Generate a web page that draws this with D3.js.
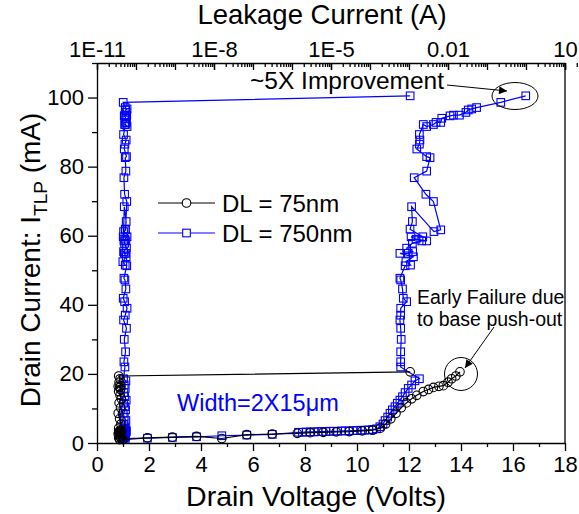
<!DOCTYPE html>
<html><head><meta charset="utf-8">
<script src="https://cdn.jsdelivr.net/npm/d3@7"></script>
<style>
body{margin:0;background:#fff;}
svg{display:block;font-family:Arial,"Liberation Sans",sans-serif;}
</style></head>
<body>
<svg id="c" width="579" height="514"></svg>
<script>
// ---------- DATA ----------
const bottomTicks = [0,2,4,6,8,10,12,14,16,18];
const leftTicks = [0,20,40,60,80,100];
const topTickValues = [1e-11,1e-8,1e-5,1e-2,10];
const topTickLabels = ["1E-11","1E-8","1E-5","0.01","10"];

// DL = 750nm : TLP I-V (Volts, mA) and leakage (A) after each pulse
const blueV = [1.0,1.94,2.9,3.83,4.8,5.76,6.74,
 7.75,7.9,8.05,8.2,8.35,8.5,8.65,8.8,8.95,9.1,9.25,9.4,9.55,9.7,9.85,10.0,10.15,10.3,10.45,10.6,10.75,
 10.88,11.0,11.08,11.18,11.27,11.36,11.46,11.55,11.65,11.75,11.85,11.97,12.1,12.23,12.4,
 11.68,11.68,11.68,11.7,11.68,11.65,11.68,11.68,11.91,11.78,
 11.75,11.68,11.65,11.85,12.06,11.88,12.17,11.65,11.97,12.14,
 11.91,12.13,12.49,12.68,12.27,12.08,12.53,12.04,12.13,12.1,
 12.96,13.22,12.94,12.65,12.2,12.68,12.81,12.68,12.3,12.4,
 12.42,12.4,12.55,12.68,12.94,13.04,13.22,13.26,13.58,13.71,
 13.94,14.19,14.28,14.41,14.6,15.53,16.49];
const blueI = [1.3,1.4,1.6,1.8,2.1,2.3,2.5,
 3.1,3.1,3.2,3.2,3.2,3.3,3.3,3.3,3.4,3.4,3.4,3.5,3.5,3.5,3.6,3.6,3.7,3.7,3.8,3.9,4.1,
 4.7,5.5,6.5,7.5,8.6,9.6,10.5,11.5,12.4,13.4,14.6,15.8,16.8,18.0,18.6,
 22.0,23.5,26.4,30.0,33.2,35.6,37.0,39.0,40.9,41.9,
 44.6,47.2,47.7,51.3,51.5,52.5,53.9,54.9,54.9,55.4,
 56.4,57.8,58.5,58.5,59.0,59.7,59.7,61.9,64.1,68.4,
 61.2,61.7,69.9,72.0,76.8,78.7,82.6,82.9,85.1,86.5,
 87.7,89.3,92.2,91.6,92.2,92.8,92.8,94.0,94.7,94.9,
 94.9,95.7,96.4,96.7,97.1,98.6,100.5];
const blueLeak = [5.3e-11,4.6e-11,5.0e-11,5.4e-11,4.8e-11,5.2e-11,4.9e-11,
 5.5e-11,4.7e-11,5.1e-11,5.3e-11,4.9e-11,5.6e-11,5.0e-11,4.8e-11,5.2e-11,5.4e-11,4.6e-11,5.1e-11,5.5e-11,4.9e-11,5.3e-11,5.0e-11,4.7e-11,5.2e-11,5.6e-11,4.8e-11,5.1e-11,
 5.3e-11,4.9e-11,5.5e-11,5.0e-11,4.7e-11,5.4e-11,5.2e-11,4.8e-11,5.6e-11,5.1e-11,4.9e-11,5.3e-11,5.0e-11,5.5e-11,4.8e-11,
 5.2e-11,4.9e-11,5.4e-11,5.0e-11,5.7e-11,4.8e-11,5.3e-11,5.9e-11,5.1e-11,4.7e-11,
 5.5e-11,5.2e-11,4.9e-11,5.8e-11,5.3e-11,4.6e-11,5.6e-11,5.0e-11,5.4e-11,4.8e-11,
 5.7e-11,5.1e-11,4.9e-11,5.5e-11,5.2e-11,5.9e-11,4.7e-11,5.3e-11,5.6e-11,5.0e-11,
 4.8e-11,5.4e-11,5.8e-11,5.1e-11,4.9e-11,5.5e-11,5.3e-11,5.7e-11,5.0e-11,5.2e-11,
 5.6e-11,4.8e-11,5.4e-11,5.9e-11,5.1e-11,5.3e-11,5.7e-11,5.5e-11,5.0e-11,5.8e-11,
 5.2e-11,5.6e-11,5.4e-11,5.9e-11,5.3e-11,4.7e-11,1.07e-3];

// DL = 75nm
const blackV = [1.0,1.94,2.9,3.83,4.8,5.76,6.74,7.7,8.2,8.7,9.2,9.7,10.2,10.6,
 10.9,11.1,11.3,11.5,11.7,11.9,12.1,12.3,12.55,12.75,12.94,13.15,13.32,13.5,13.64,13.8,13.96];
const blackI = [1.0,1.5,1.7,1.9,1.3,2.4,2.6,2.8,3.0,3.1,3.2,3.3,3.5,3.7,
 4.3,5.5,7.0,8.6,10.2,11.6,12.8,13.8,14.9,15.5,16.1,16.4,16.6,17.6,18.6,19.4,20.6];
const blackLeak = [3.8e-11,3.6e-11,4.0e-11,3.7e-11,4.2e-11,3.9e-11,3.5e-11,4.1e-11,3.8e-11,3.6e-11,4.0e-11,3.7e-11,4.3e-11,3.9e-11,
 3.6e-11,4.1e-11,3.8e-11,3.5e-11,4.0e-11,3.7e-11,4.2e-11,3.9e-11,3.6e-11,4.0e-11,3.8e-11,3.5e-11,4.1e-11,3.7e-11,3.9e-11,3.6e-11,1.07e-3];

const seriesNames = ["DL = 75nm","DL = 750nm"];
const seriesColors = ["#000000","#0000ff"];

// ---------- CHART ----------
const svg = d3.select("#c");
const L=97,R=565,T=63,B=443;
const x = d3.scaleLinear().domain([0,18]).range([L,R]);
const y = d3.scaleLinear().domain([0,110]).range([B,T]);
const xl = d3.scaleLog().domain([1e-11,10]).range([L,R]);

const FS = 22;
function styleAxis(g){
  g.selectAll("path").attr("stroke","#000").attr("stroke-width",1.3);
  g.selectAll("line").attr("stroke","#000").attr("stroke-width",1.3);
  g.selectAll("text").attr("font-size",FS).attr("fill","#000").attr("font-family","Arial, 'Liberation Sans', sans-serif");
}
// bottom
svg.append("g").attr("transform",`translate(0,${B})`)
  .call(d3.axisBottom(x).tickValues(d3.range(1,18,2)).tickSize(4).tickFormat(""))
  .call(g=>g.select(".domain").remove()).call(styleAxis);
svg.append("g").attr("transform",`translate(0,${B})`)
  .call(d3.axisBottom(x).tickValues(bottomTicks).tickSize(8).tickSizeOuter(0).tickPadding(5).tickFormat(d3.format("d")))
  .call(styleAxis);
// left
svg.append("g").attr("transform",`translate(${L},0)`)
  .call(d3.axisLeft(y).tickValues(d3.range(10,111,20)).tickSize(5).tickFormat(""))
  .call(g=>g.select(".domain").remove()).call(styleAxis);
svg.append("g").attr("transform",`translate(${L},0)`)
  .call(d3.axisLeft(y).tickValues(leftTicks).tickSize(9).tickSizeOuter(0).tickPadding(4).tickFormat(d3.format("d")))
  .call(styleAxis);
// top (log)
const decades = d3.range(-11,2).map(e=>Math.pow(10,e));
const minors = [];
decades.forEach(d=>{ for(let k=2;k<=9;k++) minors.push(d*k); });
svg.append("g").attr("transform",`translate(0,${T})`)
  .call(d3.axisTop(xl).tickValues(minors).tickSizeInner(-4).tickSizeOuter(0).tickFormat(""))
  .call(g=>g.select(".domain").remove()).call(styleAxis);
svg.append("g").attr("transform",`translate(0,${T})`)
  .call(d3.axisTop(xl).tickValues(decades.concat([10])).tickSizeInner(-7).tickSizeOuter(0).tickFormat(""))
  .call(g=>g.select(".domain").remove()).call(styleAxis);
svg.append("g").attr("transform",`translate(0,${T})`)
  .call(d3.axisTop(xl).tickValues(topTickValues).tickSizeInner(-7).tickSizeOuter(0).tickPadding(6)
     .tickFormat((d,i)=>topTickLabels[i]))
  .call(styleAxis);
// right
svg.append("line").attr("x1",R).attr("x2",R).attr("y1",T).attr("y2",B).attr("stroke","#000").attr("stroke-width",1.3);

// axis titles
svg.append("text").attr("x",316).attr("y",506).attr("text-anchor","middle").attr("font-size",28.5).text("Drain Voltage (Volts)");
svg.append("text").attr("x",322).attr("y",24).attr("text-anchor","middle").attr("font-size",27.5).text("Leakage Current (A)");
const yt = svg.append("text").attr("transform","translate(40,260) rotate(-90)").attr("text-anchor","middle").attr("font-size",28);
yt.append("tspan").text("Drain Current: I");
yt.append("tspan").attr("font-size",19).attr("dy",7).text("TLP");
yt.append("tspan").attr("dy",-7).text(" (mA)");

// series drawing
function drawSeries(vArr,iArr,leakArr,color,shape){
  const iv = vArr.map((v,k)=>({xp:x(v),yp:y(iArr[k])}));
  const lk = leakArr.map((l,k)=>({xp:xl(l),yp:y(iArr[k])}));
  const line = d3.line().x(d=>d.xp).y(d=>d.yp);
  [lk,iv].forEach(pts=>{
    svg.append("path").attr("d",line(pts)).attr("fill","none").attr("stroke",color).attr("stroke-width",1.2);
    const g = svg.append("g");
    if(shape==="square"){
      g.selectAll("rect").data(pts).join("rect")
        .attr("x",d=>d.xp-3.8).attr("y",d=>d.yp-3.8).attr("width",7.6).attr("height",7.6)
        .attr("fill","none").attr("stroke",color).attr("stroke-width",1.1);
    } else {
      g.selectAll("circle").data(pts).join("circle")
        .attr("cx",d=>d.xp).attr("cy",d=>d.yp).attr("r",4.3)
        .attr("fill","none").attr("stroke",color).attr("stroke-width",1.1);
    }
  });
}
drawSeries(blueV,blueI,blueLeak,seriesColors[1],"square");
drawSeries(blackV,blackI,blackLeak,seriesColors[0],"circle");

// legend
const lg = svg.append("g");
[0,1].forEach(k=>{
  const yy = 203 + k*30;
  lg.append("line").attr("x1",158).attr("x2",215).attr("y1",yy).attr("y2",yy).attr("stroke",seriesColors[k]).attr("stroke-width",1.2);
  if(k===0) lg.append("circle").attr("cx",186.5).attr("cy",yy).attr("r",4.3).attr("fill","#fff").attr("stroke","#000").attr("stroke-width",1.1);
  else lg.append("rect").attr("x",182.7).attr("y",yy-3.8).attr("width",7.6).attr("height",7.6).attr("fill","#fff").attr("stroke","#0000ff").attr("stroke-width",1.1);
  lg.append("text").attr("x",222).attr("y",yy+8.5).attr("font-size",24).text(seriesNames[k]);
});

// annotations
const defs = svg.append("defs");
defs.append("marker").attr("id","ah").attr("viewBox","0 0 10 10").attr("refX",10).attr("refY",5)
  .attr("markerWidth",10).attr("markerHeight",8).attr("markerUnits","userSpaceOnUse").attr("orient","auto")
  .append("path").attr("d","M0,0L10,5L0,10z").attr("fill","#000");
svg.append("text").attr("x",250).attr("y",89).attr("font-size",24.5).text("~5X Improvement");
svg.append("line").attr("x1",447).attr("y1",85).attr("x2",507).attr("y2",91).attr("stroke","#000").attr("stroke-width",1).attr("marker-end","url(#ah)");
svg.append("ellipse").attr("cx",515).attr("cy",96).attr("rx",23).attr("ry",13.5).attr("fill","none").attr("stroke","#000").attr("stroke-width",1);

svg.append("text").attr("x",417).attr("y",304).attr("font-size",19.5).text("Early Failure due");
svg.append("text").attr("x",417).attr("y",326).attr("font-size",19.5).text("to base push-out");
svg.append("line").attr("x1",494).attr("y1",327).attr("x2",465).attr("y2",368).attr("stroke","#000").attr("stroke-width",1).attr("marker-end","url(#ah)");
svg.append("circle").attr("cx",461).attr("cy",374).attr("r",16.5).attr("fill","none").attr("stroke","#000").attr("stroke-width",1);

svg.append("text").attr("x",177).attr("y",411).attr("font-size",23.5).attr("fill","#0000ff").text("Width=2X15\u03bcm");
</script>
</body></html>
